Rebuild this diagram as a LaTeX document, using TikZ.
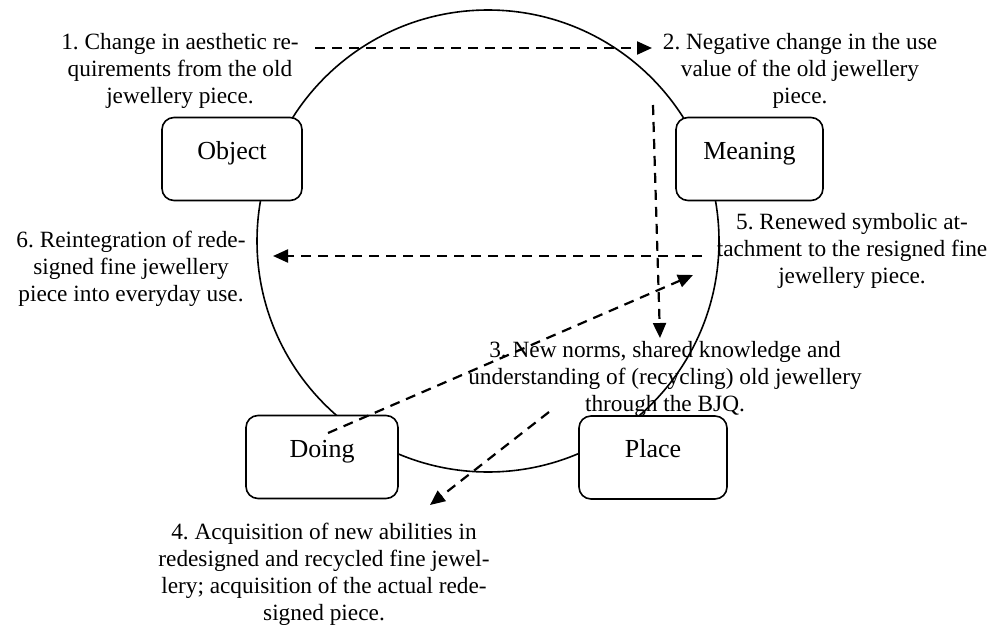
\documentclass[tikz,border=0pt]{standalone}
\usepackage{fontspec}
\setmainfont{Liberation Serif}
\usetikzlibrary{arrows.meta}
\frenchspacing
\begin{document}
\begin{tikzpicture}[x=1pt,y=-1pt,
  box/.style={draw, line width=1.6pt, rounded corners=12pt, fill=white, minimum width=#1, minimum height=83pt, inner sep=0pt},
  lbl/.style={font=\fontsize{26}{30}\selectfont, anchor=base, inner sep=0pt},
  note/.style={font=\fontsize{23.3}{27}\selectfont, align=center, inner sep=0pt},
  flow/.style={line width=2.2pt, dash pattern=on 10pt off 7pt, -{Triangle[length=15pt,width=13pt]}},
  ring/.style={draw, circle, line width=1.6pt, minimum size=462pt, inner sep=0pt}]
\useasboundingbox (0,0) rectangle (1003,626);
% ring
\node[ring] (cycle) at (488,241) {};
% boxes
\node[box=140pt] (object) at (232,159) {};
\node[lbl] (objectlbl) at (object.center) {Object};
\node[box=147pt] (meaning) at (749.5,159) {};
\node[lbl] (meaninglbl) at (meaning.center) {Meaning};
\node[box=152pt] (doing) at (322,457) {};
\node[lbl] (doinglbl) at (doing.center) {Doing};
\node[box=148pt] (place) at (653,457.5) {};
\node[lbl] (placelbl) at (place.center) {Place};
% notes
\node[note] (t1) at (180,71) {1. Change in aesthetic re-\\quirements from the old\\jewellery piece.};
\node[note] (t2) at (800,71) {2. Negative change in the use\\value of the old jewellery\\piece.};
\node[note] (t3) at (665,379) {3. New norms, shared knowledge and\\understanding of (recycling) old jewellery\\through the BJQ.};
\node[note] (t4) at (324,574) {4. Acquisition of new abilities in\\redesigned and recycled fine jewel-\\lery; acquisition of the actual rede-\\signed piece.};
\node[note] (t5) at (852,251) {5. Renewed symbolic at-\\tachment to the resigned fine\\jewellery piece.};
\node[note] (t6) at (131,269) {6. Reintegration of rede-\\signed fine jewellery\\piece into everyday use.};
% arrow ends
\coordinate (a1s) at (315,48);  \coordinate (a1e) at (652,48);
\coordinate (a2s) at (653,105); \coordinate (a2e) at (660,338);
\coordinate (a3s) at (549,412); \coordinate (a3e) at (430,505);
\coordinate (a4s) at (328,433); \coordinate (a4e) at (693,275);
\coordinate (a5s) at (702,256); \coordinate (a5e) at (273,256);
\draw[flow] (a1s) -- (a1e);
\draw[flow] (a2s) -- (a2e);
\draw[flow] (a3s) -- (a3e);
\draw[flow] (a4s) -- (a4e);
\draw[flow] (a5s) -- (a5e);
\end{tikzpicture}
\end{document}
